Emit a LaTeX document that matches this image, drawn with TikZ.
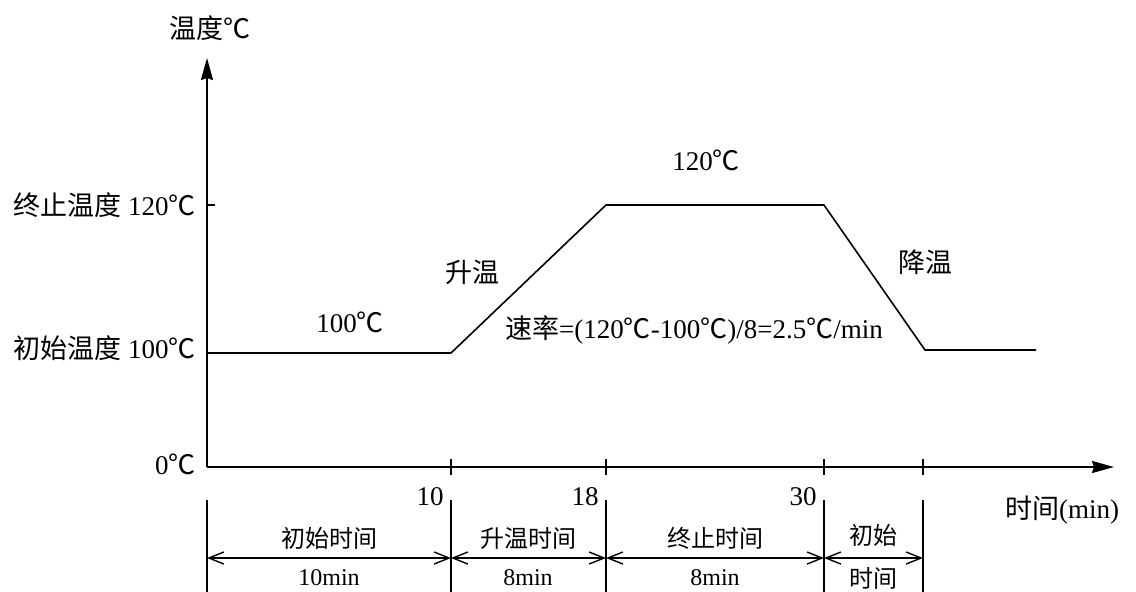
\documentclass[tikz,border=0pt]{standalone}
\usepackage{fontspec}
\setmainfont{Liberation Serif}
\newfontfamily\cjk{Noto Sans CJK SC}
\usetikzlibrary{positioning, arrows.meta}
\newcommand{\tdeg}{{\cjk ℃}}

\begin{document}
\begin{tikzpicture}[x=0.5pt, y=-0.5pt,
    axisline/.style={line width=1pt, -{Stealth[length=11pt, width=6pt, inset=1pt]}},
    curveline/.style={line width=0.8pt},
    tickline/.style={line width=0.7pt},
    dimline/.style={line width=0.7pt, {Straight Barb[length=7.5pt, width=6pt]}-{Straight Barb[length=7.5pt, width=6pt]}},
    biglabel/.style={inner sep=1pt, font=\fontsize{13.5}{15}\selectfont},
    smalllabel/.style={inner sep=1pt, font=\fontsize{12}{14}\selectfont},
]
\useasboundingbox (0,0) rectangle (1136,591);

% axes
\coordinate (o) at (207,467);
\coordinate (ytip) at (207,58);
\coordinate (xtip) at (1114,467);
\draw[axisline] (o) -- (ytip);
\draw[axisline] (o) -- (xtip);

% temperature curve
\coordinate (p0) at (207,353);
\coordinate (p1) at (451,353);
\coordinate (p2) at (606,205);
\coordinate (p3) at (824,205);
\coordinate (p4) at (925,350);
\coordinate (p5) at (1036,350);
\draw[curveline] (p0) -- (p1) -- (p2) -- (p3) -- (p4) -- (p5);

% ticks
\coordinate (t120) at (215,205);
\draw[tickline] (207,205) -- (t120);
\draw[tickline] (451,459) -- (451,475);
\draw[tickline] (606,459) -- (606,475);
\draw[tickline] (824,459) -- (824,475);
\draw[tickline] (923,459) -- (923,475);

% dimension lines
\coordinate (d0t) at (207,500); \coordinate (d0b) at (207,592);
\coordinate (d1t) at (451,500); \coordinate (d1b) at (451,592);
\coordinate (d2t) at (606,500); \coordinate (d2b) at (606,592);
\coordinate (d3t) at (824,500); \coordinate (d3b) at (824,592);
\coordinate (d4t) at (923,500); \coordinate (d4b) at (923,592);
\draw[tickline] (d0t) -- (d0b);
\draw[tickline] (d1t) -- (d1b);
\draw[tickline] (d2t) -- (d2b);
\draw[tickline] (d3t) -- (d3b);
\draw[tickline] (d4t) -- (d4b);
\coordinate (a0) at (207,558);
\coordinate (a1) at (451,558);
\coordinate (a2) at (606,558);
\coordinate (a3) at (824,558);
\coordinate (a4) at (923,558);
\draw[dimline] (a0) -- (a1);
\draw[dimline] (a1) -- (a2);
\draw[dimline] (a2) -- (a3);
\draw[dimline] (a3) -- (a4);

% axis labels
\node[biglabel] (ylab) at (210,28) {{\cjk 温度}\tdeg};
\node[biglabel] (xlab) at (1062,510) {{\cjk 时间}(min)};
\node[biglabel, anchor=east] (l120) at (198,205) {{\cjk 终止温度} 120\tdeg};
\node[biglabel, anchor=east] (l100) at (198,348) {{\cjk 初始温度} 100\tdeg};
\node[biglabel, anchor=east] (l0) at (198,464) {0\tdeg};

% curve labels
\node[biglabel] (c100) at (350,322) {100\tdeg};
\node[biglabel] (c120) at (706,160) {120\tdeg};
\node[biglabel] (rise) at (472,272) {\cjk 升温};
\node[biglabel] (rate) at (694,330) {{\cjk 速率}=(120\tdeg-100\tdeg)/8=2.5\tdeg/min};
\node[biglabel] (fall) at (925,262) {\cjk 降温};

% time marks
\node[biglabel] (n10) at (430,497) {10};
\node[biglabel] (n18) at (585,497) {18};
\node[biglabel] (n30) at (803,497) {30};

% interval labels
\node[smalllabel] (s1) at (329,538) {\cjk 初始时间};
\node[smalllabel] (m1) at (329,578) {10min};
\node[smalllabel] (s2) at (528,538) {\cjk 升温时间};
\node[smalllabel] (m2) at (528,578) {8min};
\node[smalllabel] (s3) at (715,538) {\cjk 终止时间};
\node[smalllabel] (m3) at (715,578) {8min};
\node[smalllabel] (s4) at (873,535) {\cjk 初始};
\node[smalllabel] (m4) at (873,578) {\cjk 时间};
\end{tikzpicture}
\end{document}
